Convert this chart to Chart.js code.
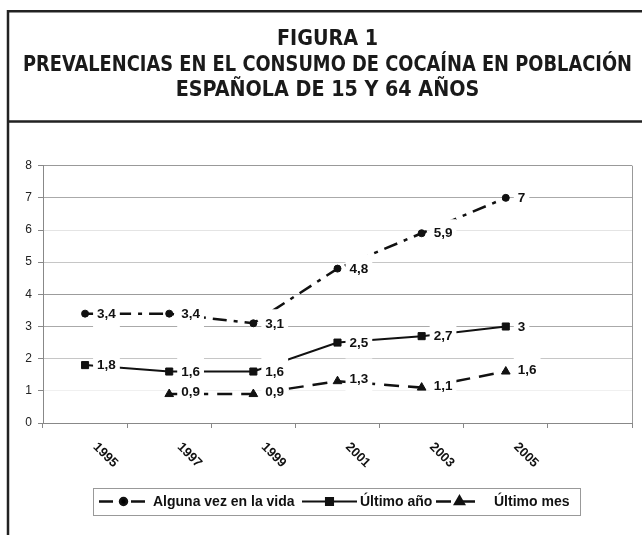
<!DOCTYPE html>
<html><head><meta charset="utf-8">
<script src="https://cdn.jsdelivr.net/npm/chart.js@4.4.1/dist/chart.umd.min.js"></script>
<style>html,body{margin:0;padding:0;background:#fff}#wrap{width:642px;height:535px;position:relative}</style>
</head><body><div id="wrap"><canvas id="c" width="642" height="535"></canvas></div>
<script>
const titleLines = ['FIGURA 1', 'PREVALENCIAS EN EL CONSUMO DE COCAÍNA EN POBLACIÓN', 'ESPAÑOLA DE 15 Y 64 AÑOS'];
const years = ['1995', '1997', '1999', '2001', '2003', '2005', ''];
const seriesNames = ['Alguna vez en la vida', 'Último año', 'Último mes'];
const algunaVez = [3.4, 3.4, 3.1, 4.8, 5.9, 7, null];
const ultimoAno = [1.8, 1.6, 1.6, 2.5, 2.7, 3, null];
const ultimoMes = [null, 0.9, 0.9, 1.3, 1.1, 1.6, null];
const yMin = 0, yMax = 8, yStep = 1;

const SANS = '"Liberation Sans", Arial, sans-serif';
const NARROW = '"Liberation Sans Narrow", "Arial Narrow", "DejaVu Sans Condensed", sans-serif';
const INK = '#111';
const gridColors = {8: '#999', 7: '#aaa', 6: '#e4e4e4', 5: '#c6c6c6', 4: '#9c9c9c', 3: '#aaa', 2: '#c6c6c6', 1: '#f0f0f0', 0: '#888'};

const fmt = v => String(v).replace('.', ',');

const framePlugin = {
  id: 'frame',
  beforeDraw(chart) {
    const ctx = chart.ctx;
    ctx.save();
    ctx.fillStyle = '#fff';
    ctx.fillRect(0, 0, chart.width, chart.height);
    ctx.restore();
  },
  beforeDatasetsDraw(chart) {
    const {ctx, chartArea: a} = chart;
    ctx.save();
    ctx.strokeStyle = '#999';
    ctx.lineWidth = 1;
    ctx.beginPath();
    ctx.moveTo(a.right + 0.5, a.top);
    ctx.lineTo(a.right + 0.5, a.bottom);
    ctx.stroke();
    ctx.restore();
  },
  afterDraw(chart) {
    const ctx = chart.ctx;
    ctx.save();
    ctx.strokeStyle = '#222';
    ctx.lineWidth = 2.5;
    ctx.beginPath();
    ctx.moveTo(8, 535); ctx.lineTo(8, 11.25); ctx.lineTo(642, 11.25);
    ctx.moveTo(8, 121.5); ctx.lineTo(642, 121.5);
    ctx.stroke();
    ctx.restore();
  }
};

const dataLabelPlugin = {
  id: 'dataLabels',
  afterDatasetsDraw(chart) {
    const ctx = chart.ctx;
    ctx.save();
    ctx.font = 'bold 13.5px ' + SANS;
    ctx.textBaseline = 'middle';
    ctx.textAlign = 'left';
    const items = [];
    chart.data.datasets.forEach((ds, di) => {
      const meta = chart.getDatasetMeta(di);
      meta.data.forEach((pt, i) => {
        const v = ds.data[i];
        if (v === null || v === undefined) return;
        const txt = fmt(v);
        const w = ctx.measureText(txt).width;
        const yy = pt.y - (ds.pointStyle === 'triangle' ? 2 : 0);
        items.push({x: pt.x + 12, y: yy, w, txt});
      });
    });
    ctx.fillStyle = '#fff';
    items.forEach(it => ctx.fillRect(it.x - 4, it.y - 14, it.w + 8, 30));
    ctx.fillStyle = INK;
    items.forEach(it => ctx.fillText(it.txt, it.x, it.y + 0.5));
    ctx.restore();
  }
};

const xLabelPlugin = {
  id: 'xLabels',
  afterDraw(chart) {
    const ctx = chart.ctx, xs = chart.scales.x;
    ctx.save();
    ctx.font = 'bold 13px ' + SANS;
    ctx.fillStyle = '#111';
    ctx.textAlign = 'left';
    ctx.textBaseline = 'middle';
    chart.data.labels.forEach((lab, i) => {
      if (!lab) return;
      const x = xs.getPixelForValue(i) + 10;
      const y = chart.chartArea.bottom + 22;
      ctx.save();
      ctx.translate(x, y);
      ctx.rotate(Math.PI / 4);
      ctx.fillText(lab, 0, 0);
      ctx.restore();
    });
    ctx.restore();
  }
};

const legendLayout = {box: [93.5, 488.5, 487, 27], sampleX: [99, 302, 436], sampleW: [49, 55, 47], textX: [153, 360, 494], y: 501.5};
const legendPlugin = {
  id: 'customLegend',
  afterDraw(chart) {
    const ctx = chart.ctx, L = legendLayout;
    ctx.save();
    ctx.strokeStyle = '#999';
    ctx.lineWidth = 1;
    ctx.strokeRect(...L.box);
    chart.data.datasets.forEach((ds, i) => {
      const x0 = L.sampleX[i], x1 = x0 + L.sampleW[i], y = L.y;
      ctx.strokeStyle = ds.borderColor;
      ctx.lineWidth = ds.borderWidth;
      ctx.setLineDash(ds.borderDash || []);
      ctx.beginPath(); ctx.moveTo(x0, y); ctx.lineTo(x1, y); ctx.stroke();
      ctx.setLineDash([]);
      Chart.helpers.drawPoint(ctx, {pointStyle: ds.pointStyle, radius: ds.pointRadius, borderWidth: 1}, (x0 + x1) / 2, y);
      ctx.fillStyle = INK;
      ctx.font = 'bold 14px ' + SANS;
      ctx.textAlign = 'left';
      ctx.textBaseline = 'middle';
      ctx.fillText(ds.label, L.textX[i], y + 0.5);
    });
    ctx.restore();
  }
};

function mkSet(label, data, style, radius, width, dash) {
  return {
    label, data, borderColor: INK, backgroundColor: INK, borderWidth: width, borderDash: dash,
    pointStyle: style, pointRadius: radius, pointHoverRadius: radius, pointBackgroundColor: INK,
    pointBorderColor: INK, pointBorderWidth: 1, tension: 0, spanGaps: false, fill: false
  };
}

new Chart(document.getElementById('c'), {
  type: 'line',
  data: {
    labels: years,
    datasets: [
      mkSet(seriesNames[0], algunaVez, 'circle', 3.5, 2.5, [14, 7, 4, 7]),
      mkSet(seriesNames[1], ultimoAno, 'rect', 5, 2, []),
      mkSet(seriesNames[2], ultimoMes, 'triangle', 5, 2.5, [15, 9])
    ]
  },
  options: {
    responsive: false,
    animation: false,
    devicePixelRatio: 1,
    layout: {padding: {left: 23, right: 10, top: 0, bottom: 0}},
    plugins: {
      legend: {display: false},
      tooltip: {enabled: false},
      title: {
        display: true, text: titleLines, color: '#1a1a1a',
        font: {family: NARROW, size: 21.3, weight: 'bold', lineHeight: 1.2},
        padding: {top: 27, bottom: 62}
      }
    },
    scales: {
      x: {
        offset: true,
        grid: {offset: true, drawOnChartArea: false, drawTicks: true, tickLength: 5, color: '#888'},
        border: {color: '#888', width: 1},
        ticks: {display: false},
        afterFit(s) { s.height = 112; }
      },
      y: {
        min: yMin, max: yMax,
        ticks: {stepSize: yStep, padding: 6, color: '#222', font: {family: SANS, size: 12}},
        grid: {color: c => gridColors[c.tick.value] || '#bbb', tickColor: '#888', tickLength: 5, lineWidth: 1},
        border: {color: '#888', width: 1},
        afterFit(s) { s.width = 20; }
      }
    }
  },
  plugins: [framePlugin, dataLabelPlugin, xLabelPlugin, legendPlugin]
});
</script>
</body></html>
